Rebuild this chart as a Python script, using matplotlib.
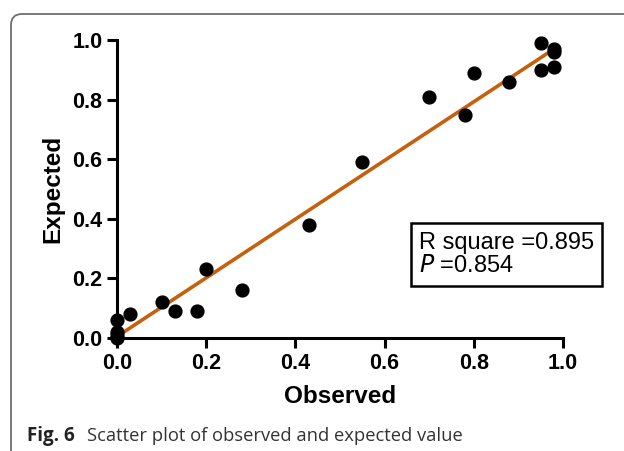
import numpy as np
import matplotlib
matplotlib.use("Agg")
import matplotlib.pyplot as plt
from matplotlib.patches import FancyBboxPatch
from matplotlib.transforms import IdentityTransform

observed = [0.0, 0.0, 0.0, 0.0, 0.03, 0.10, 0.13, 0.18, 0.20, 0.28, 0.43, 0.55,
            0.70, 0.78, 0.80, 0.88, 0.95, 0.95, 0.98, 0.98, 0.98]
expected = [0.0, 0.01, 0.02, 0.06, 0.08, 0.12, 0.09, 0.09, 0.23, 0.16, 0.38, 0.59,
            0.81, 0.75, 0.89, 0.86, 0.99, 0.90, 0.97, 0.96, 0.91]
fit_x = [0.0, 0.98]
fit_y = [0.005, 0.97]
ticks = [0.0, 0.2, 0.4, 0.6, 0.8, 1.0]

plt.rcParams['font.family'] = ['Liberation Sans', 'DejaVu Sans']

fig = plt.figure(figsize=(6.24, 4.51), dpi=100)
ax = fig.add_axes([117/624, 1 - 338/451, (563 - 117)/624, (338 - 40)/451])

ax.plot(fit_x, fit_y, color='#c5600c', lw=2.6, zorder=1, solid_capstyle='butt')
ax.scatter(observed, expected, s=85, color='black', zorder=2, clip_on=False)

ax.set_xlim(0, 1.0)
ax.set_ylim(0, 1.0)
ax.set_xticks(ticks)
ax.set_yticks(ticks)
ax.set_xticklabels([f"{t:.1f}" for t in ticks], fontsize=15.5, fontweight='bold')
ax.set_yticklabels([f"{t:.1f}" for t in ticks], fontsize=15.5, fontweight='bold')
ax.tick_params(direction='out', length=7.5, width=2.2, pad=3)
for s in ['top', 'right']:
    ax.spines[s].set_visible(False)
for s in ['left', 'bottom']:
    ax.spines[s].set_linewidth(2.2)

ax.set_xlabel('Observed', fontsize=17.5, fontweight='bold', labelpad=8)
ax.set_ylabel('Expected', fontsize=17.5, fontweight='bold', labelpad=6)

ax.text(0.677, 0.28, 'R square =0.895\n$\\it{P}$ =0.854', transform=ax.transAxes,
        fontsize=17, va='center', ha='left', linespacing=1.1,
        bbox=dict(boxstyle='square,pad=0.35', facecolor='white', edgecolor='black', lw=1.8))

# panel border with rounded corner
border = FancyBboxPatch((11, -60), 700, 451 - 14 + 60,
                        boxstyle='round,pad=0,rounding_size=11',
                        transform=IdentityTransform(), fill=False,
                        edgecolor='#6e6e6e', lw=1.3)
fig.patches.append(border)

fig.text(27/624, 1 - 441/451, 'Fig. 6', fontsize=13.5, fontweight='bold',
         family=['Open Sans', 'DejaVu Sans'], va='baseline', color='#222222')
fig.text(87/624, 1 - 441/451, 'Scatter plot of observed and expected value', fontsize=13.2,
         family=['Open Sans', 'DejaVu Sans'], va='baseline', color='#333333')

fig.savefig('out.png', dpi=100)
